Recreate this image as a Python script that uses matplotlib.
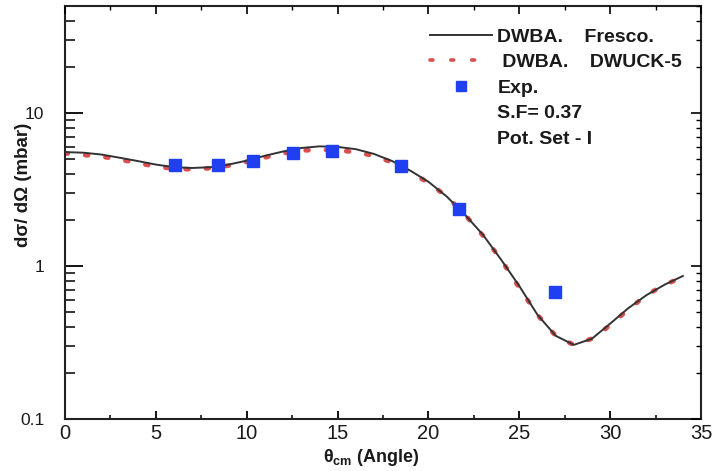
import matplotlib
matplotlib.use("Agg")
import matplotlib.pyplot as plt
from matplotlib.lines import Line2D
from matplotlib.ticker import LogLocator, FixedLocator, NullFormatter, FixedFormatter
import numpy as np

plt.rcParams['font.family'] = ['Liberation Sans', 'DejaVu Sans']
plt.rcParams['mathtext.fontset'] = 'custom'
plt.rcParams['mathtext.rm'] = 'Liberation Sans'
plt.rcParams['mathtext.bf'] = 'Liberation Sans:bold'
plt.rcParams['mathtext.it'] = 'Liberation Sans:italic'

# ---- data ----
theta = list(range(0, 35))
fresco = [5.55, 5.5, 5.35, 5.1, 4.85, 4.6, 4.42, 4.37, 4.42, 4.6, 4.88, 5.25,
          5.6, 5.9, 6.05, 6.0, 5.8, 5.4, 4.85, 4.2, 3.55, 2.85, 2.17, 1.6,
          1.1, 0.74, 0.48, 0.35, 0.305, 0.335, 0.42, 0.53, 0.645, 0.755, 0.86]
dwuck = [5.45, 5.32, 5.19, 4.97, 4.7, 4.47, 4.32, 4.28, 4.36, 4.53, 4.8, 5.12,
         5.45, 5.68, 5.75, 5.7, 5.55, 5.25, 4.76, 4.1, 3.5, 2.85, 2.17, 1.58,
         1.1, 0.72, 0.48, 0.35, 0.305, 0.335, 0.41, 0.52, 0.645, 0.755, 0.845]
exp_theta = [6.06, 8.43, 10.36, 12.57, 14.7, 18.5, 21.7, 26.96]
exp_xs = [4.55, 4.55, 4.83, 5.46, 5.62, 4.5, 2.37, 0.675]

legend_labels = ['DWBA.    Fresco.', ' DWBA.    DWUCK-5', 'Exp.', 'S.F= 0.37', 'Pot. Set - I']
xticks = [0, 5, 10, 15, 20, 25, 30, 35]
yticks = [0.1, 1, 10]
ytick_labels = ['0.1', '1', '10']

W, H = 714, 471
fig = plt.figure(figsize=(W / 100, H / 100), dpi=100)
L, R, T, B = 65, 701, 6, 419
ax = fig.add_axes([L / W, 1 - B / H, (R - L) / W, (B - T) / H])

red = '#dd4f4f'
blue = '#1f3ff0'
dark = '#333333'
txt = '#1a1a1a'

ax.plot(theta, dwuck, color=red, lw=3.4, linestyle=(0, (0.6, 3.7)),
        dash_capstyle='round', zorder=2)
ax.plot(theta, fresco, color=dark, lw=1.4, zorder=3)
ax.plot(exp_theta, exp_xs, linestyle='none', marker='s', ms=8.2,
        color=blue, mec=blue, zorder=4)

ax.set_yscale('log')
ax.set_xlim(0, 35)
ax.set_ylim(0.1, 50)

for s in ax.spines.values():
    s.set_linewidth(1.5)
    s.set_color('#222222')

ax.xaxis.set_major_locator(FixedLocator(xticks))
ax.xaxis.set_minor_locator(FixedLocator([2.5, 7.5, 12.5, 17.5, 22.5, 27.5, 32.5]))
ax.yaxis.set_major_locator(FixedLocator(yticks))
ax.yaxis.set_major_formatter(FixedFormatter(ytick_labels))
ax.yaxis.set_minor_locator(LogLocator(base=10, subs=np.arange(2, 10), numticks=20))
ax.yaxis.set_minor_formatter(NullFormatter())

ax.tick_params(axis='y', which='major', direction='in', length=13, width=1.3,
               pad=15, labelsize=12.5, labelcolor=txt)
ax.tick_params(axis='y', which='minor', direction='in', length=7, width=1.1)
ax.tick_params(axis='x', which='major', direction='in', length=6, width=1.3,
               pad=3.5, labelsize=14.5, labelcolor=txt)
ax.tick_params(axis='x', which='minor', direction='in', length=2.8, width=1.1)

# right and top mirrored ticks with different lengths
axr = ax.twinx()
axr.set_yscale('log')
axr.set_ylim(ax.get_ylim())
axr.yaxis.set_major_locator(FixedLocator(yticks))
axr.yaxis.set_minor_locator(LogLocator(base=10, subs=np.arange(2, 10), numticks=20))
axr.yaxis.set_major_formatter(NullFormatter())
axr.yaxis.set_minor_formatter(NullFormatter())
axr.tick_params(axis='y', which='major', direction='in', length=7, width=1.2)
axr.tick_params(axis='y', which='minor', direction='in', length=3.5, width=1.0)
for s in axr.spines.values():
    s.set_visible(False)

axt = ax.twiny()
axt.set_xlim(ax.get_xlim())
axt.xaxis.set_major_locator(FixedLocator(xticks))
axt.xaxis.set_minor_locator(FixedLocator([2.5, 7.5, 12.5, 17.5, 22.5, 27.5, 32.5]))
axt.xaxis.set_major_formatter(NullFormatter())
axt.tick_params(axis='x', which='major', direction='in', length=6, width=1.2)
axt.tick_params(axis='x', which='minor', direction='in', length=3.2, width=1.0)
for s in axt.spines.values():
    s.set_visible(False)

ax.set_ylabel('dσ/ dΩ (mbar)', fontsize=13.5, fontweight='bold', color=txt)
ax.yaxis.set_label_coords(-0.052, 0.567)
ax.set_xlabel(r'θ$_{\mathbf{cm}}$ (Angle)', fontsize=13, fontweight='bold', color=txt)
ax.xaxis.set_label_coords(0.481, -0.068)

handles = [
    Line2D([], [], color=dark, lw=1.4),
    Line2D([], [], color=red, lw=2.6, linestyle=(0, (0.8, 4.97)), dash_capstyle='round'),
    Line2D([], [], color=blue, marker='s', ms=6.5, linestyle='none'),
    Line2D([], [], linestyle='none'),
    Line2D([], [], linestyle='none'),
]
leg = ax.legend(handles, legend_labels, loc='upper left', bbox_to_anchor=(0.574, 0.947),
                frameon=False, borderpad=0, borderaxespad=0, handlelength=3.2,
                handletextpad=0.26, labelspacing=0.41,
                prop={'size': 14, 'weight': 'bold'})
for t in leg.get_texts():
    t.set_color(txt)

fig.savefig('out.png', dpi=100)
